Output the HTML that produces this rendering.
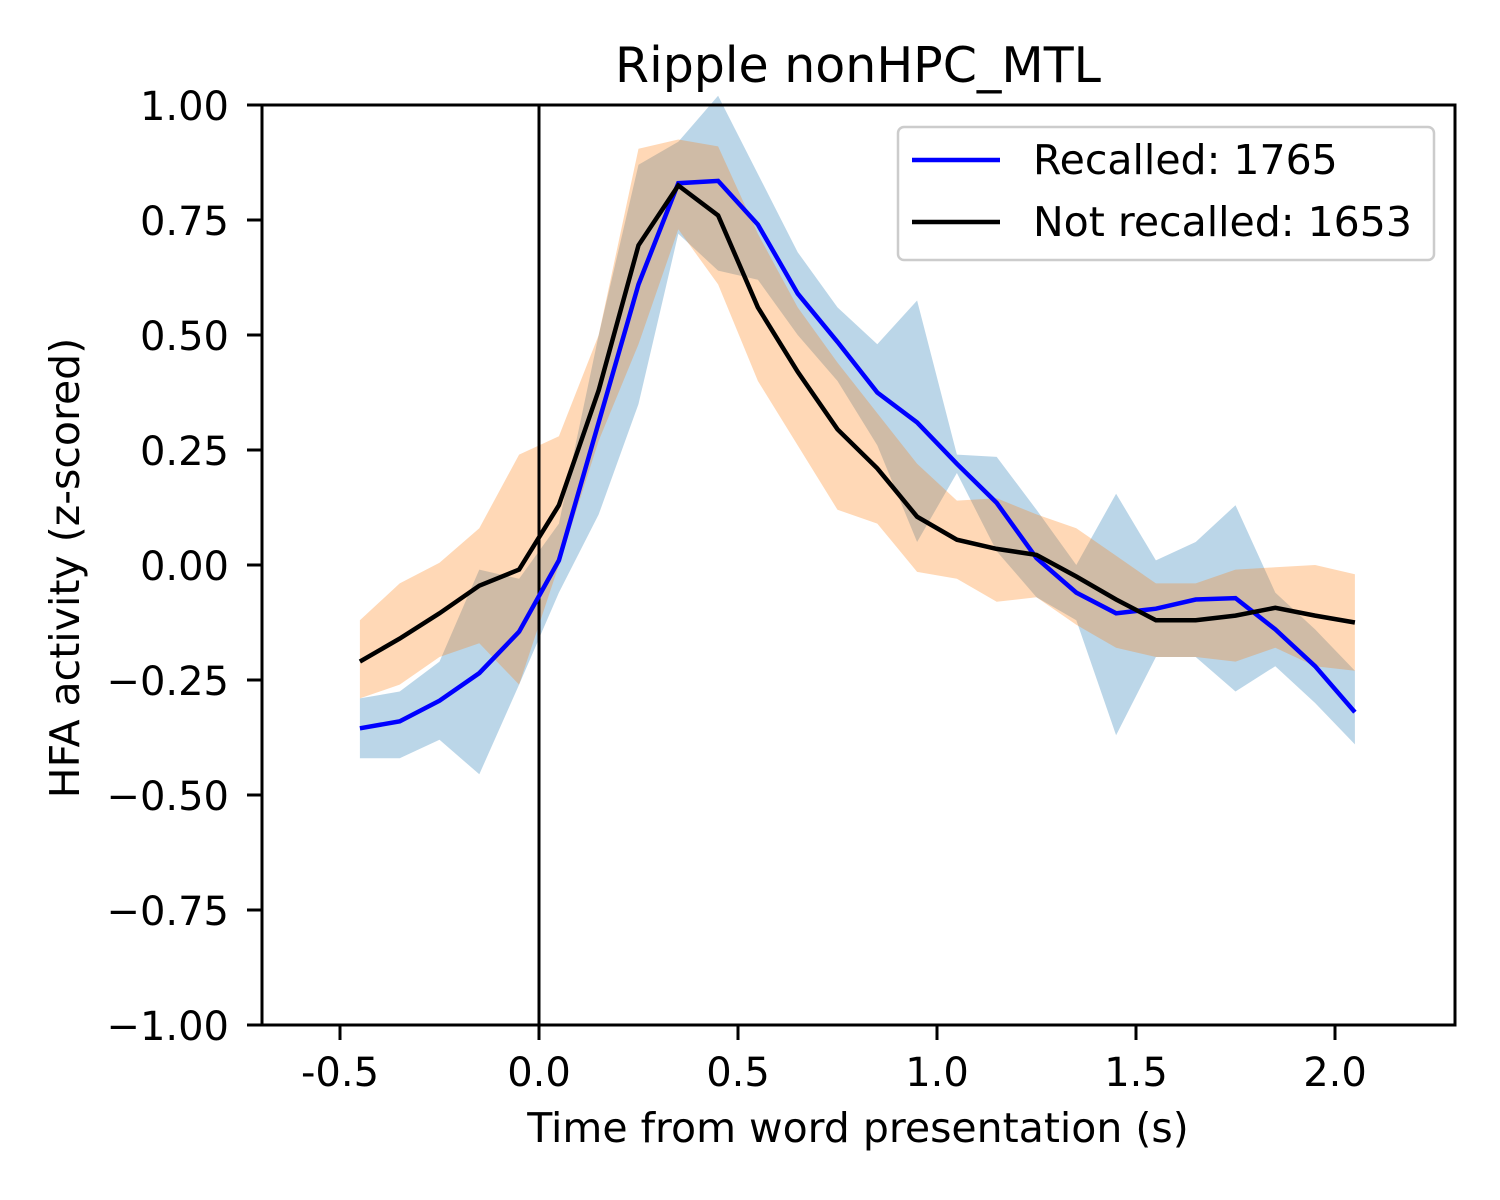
<!DOCTYPE html>
<html><head><meta charset="utf-8"><style>
body{margin:0;background:#fff}
svg{display:block;font-family:"DejaVu Sans","Liberation Sans",sans-serif}
</style></head><body>
<svg id="chart" width="1500" height="1200">
<rect width="1500" height="1200" fill="#fff"/>
<g id="bands"></g><g id="lines"></g>
<rect x="262" y="105" width="1193" height="920" fill="none" stroke="#000" stroke-width="3"/>
<g id="xt"></g><g id="yt"></g>
<text x="858" y="82" font-size="49" text-anchor="middle">Ripple nonHPC_MTL</text>
<text x="858" y="1142" font-size="41" text-anchor="middle">Time from word presentation (s)</text>
<text transform="translate(79,568) rotate(-90)" font-size="41" text-anchor="middle">HFA activity (z-scored)</text>
<g>
<rect x="898" y="127" width="536" height="133" rx="6" fill="#fff" fill-opacity="0.8" stroke="#ccc" stroke-width="2.5"/>
<line x1="912" y1="160" x2="1000" y2="160" stroke="#0000ff" stroke-width="4.5"/>
<text x="1033" y="174" font-size="41">Recalled: 1765</text>
<line x1="912" y1="222" x2="1000" y2="222" stroke="#000" stroke-width="4.5"/>
<text x="1033" y="236" font-size="41">Not recalled: 1653</text>
</g>
</svg>
<script>
const times=[-0.45,-0.35,-0.25,-0.15,-0.05,0.05,0.15,0.25,0.35,0.45,0.55,0.65,0.75,0.85,0.95,1.05,1.15,1.25,1.35,1.45,1.55,1.65,1.75,1.85,1.95,2.05];
const recMean=[-0.355,-0.34,-0.295,-0.235,-0.145,0.01,0.31,0.61,0.83,0.835,0.74,0.59,0.485,0.375,0.31,0.22,0.135,0.015,-0.06,-0.105,-0.095,-0.075,-0.072,-0.14,-0.22,-0.32];
const recUpper=[-0.29,-0.275,-0.21,-0.01,-0.03,0.09,0.5,0.87,0.92,1.02,0.85,0.68,0.56,0.48,0.575,0.24,0.235,0.12,0.0,0.155,0.01,0.05,0.13,-0.06,-0.14,-0.23];
const recLower=[-0.42,-0.42,-0.38,-0.455,-0.26,-0.06,0.11,0.35,0.72,0.64,0.62,0.5,0.4,0.26,0.05,0.2,0.03,-0.07,-0.12,-0.37,-0.2,-0.2,-0.275,-0.22,-0.3,-0.39];
const notMean=[-0.21,-0.16,-0.105,-0.045,-0.01,0.13,0.38,0.695,0.825,0.76,0.56,0.42,0.295,0.21,0.105,0.055,0.035,0.022,-0.025,-0.075,-0.12,-0.12,-0.11,-0.093,-0.11,-0.125];
const notUpper=[-0.12,-0.04,0.005,0.08,0.24,0.28,0.5,0.905,0.925,0.91,0.72,0.56,0.44,0.33,0.22,0.14,0.145,0.11,0.08,0.02,-0.04,-0.04,-0.01,-0.005,0.0,-0.02];
const notLower=[-0.29,-0.26,-0.2,-0.17,-0.26,0.0,0.27,0.48,0.73,0.61,0.4,0.26,0.12,0.09,-0.015,-0.03,-0.08,-0.07,-0.13,-0.18,-0.2,-0.2,-0.21,-0.18,-0.22,-0.23];
const xTicks=[-0.5,0,0.5,1,1.5,2];
const xTickLabels=["-0.5","0.0","0.5","1.0","1.5","2.0"];
const yTicks=[1,0.75,0.5,0.25,0,-0.25,-0.5,-0.75,-1];
const yTickLabels=["1.00","0.75","0.50","0.25","0.00","\u22120.25","\u22120.50","\u22120.75","\u22121.00"];
const NS="http://www.w3.org/2000/svg";
const X=v=>539+(v)*398, Y=v=>565-v*460;
function mk(tag,attrs,parent){const e=document.createElementNS(NS,tag);for(const k in attrs)e.setAttribute(k,attrs[k]);parent.appendChild(e);return e;}
const bands=document.getElementById('bands'),lines=document.getElementById('lines');
function band(up,lo,col,name){
 let d=times.map((t,i)=>(i?'L':'M')+X(t)+','+Y(up[i])).join('');
 for(let i=times.length-1;i>=0;i--)d+='L'+X(times[i])+','+Y(lo[i]);
 const p=mk('path',{d:d+'Z',fill:col,'fill-opacity':0.3},bands);
 
 
}
band(recUpper,recLower,'#1f77b4','recalled-band');
band(notUpper,notLower,'#ff7f0e','not-recalled-band');
const vl=mk('line',{x1:X(0),x2:X(0),y1:105,y2:1025,stroke:'#000','stroke-width':3},lines);


function line(m,col,name){
 const p=mk('polyline',{points:times.map((t,i)=>X(t)+','+Y(m[i])).join(' '),fill:'none',stroke:col,'stroke-width':4.5},lines);
 
 
}
line(recMean,'#0000ff','recalled-line');
line(notMean,'#000','not-recalled-line');
const xt=document.getElementById('xt'),yt=document.getElementById('yt');
xTicks.forEach((v,i)=>{
 mk('line',{x1:X(v),x2:X(v),y1:1025,y2:1040,stroke:'#000','stroke-width':3},xt);
 const t=mk('text',{x:X(v),y:1086,'font-size':40,'text-anchor':'middle'},xt);
 t.textContent=xTickLabels[i];
 
 
});
yTicks.forEach((v,i)=>{
 mk('line',{x1:247,x2:262,y1:Y(v),y2:Y(v),stroke:'#000','stroke-width':3},yt);
 const t=mk('text',{x:229,y:Y(v)+15,'font-size':40,'text-anchor':'end'},yt);
 t.textContent=yTickLabels[i];
 
 
});
</script>
</body></html>
